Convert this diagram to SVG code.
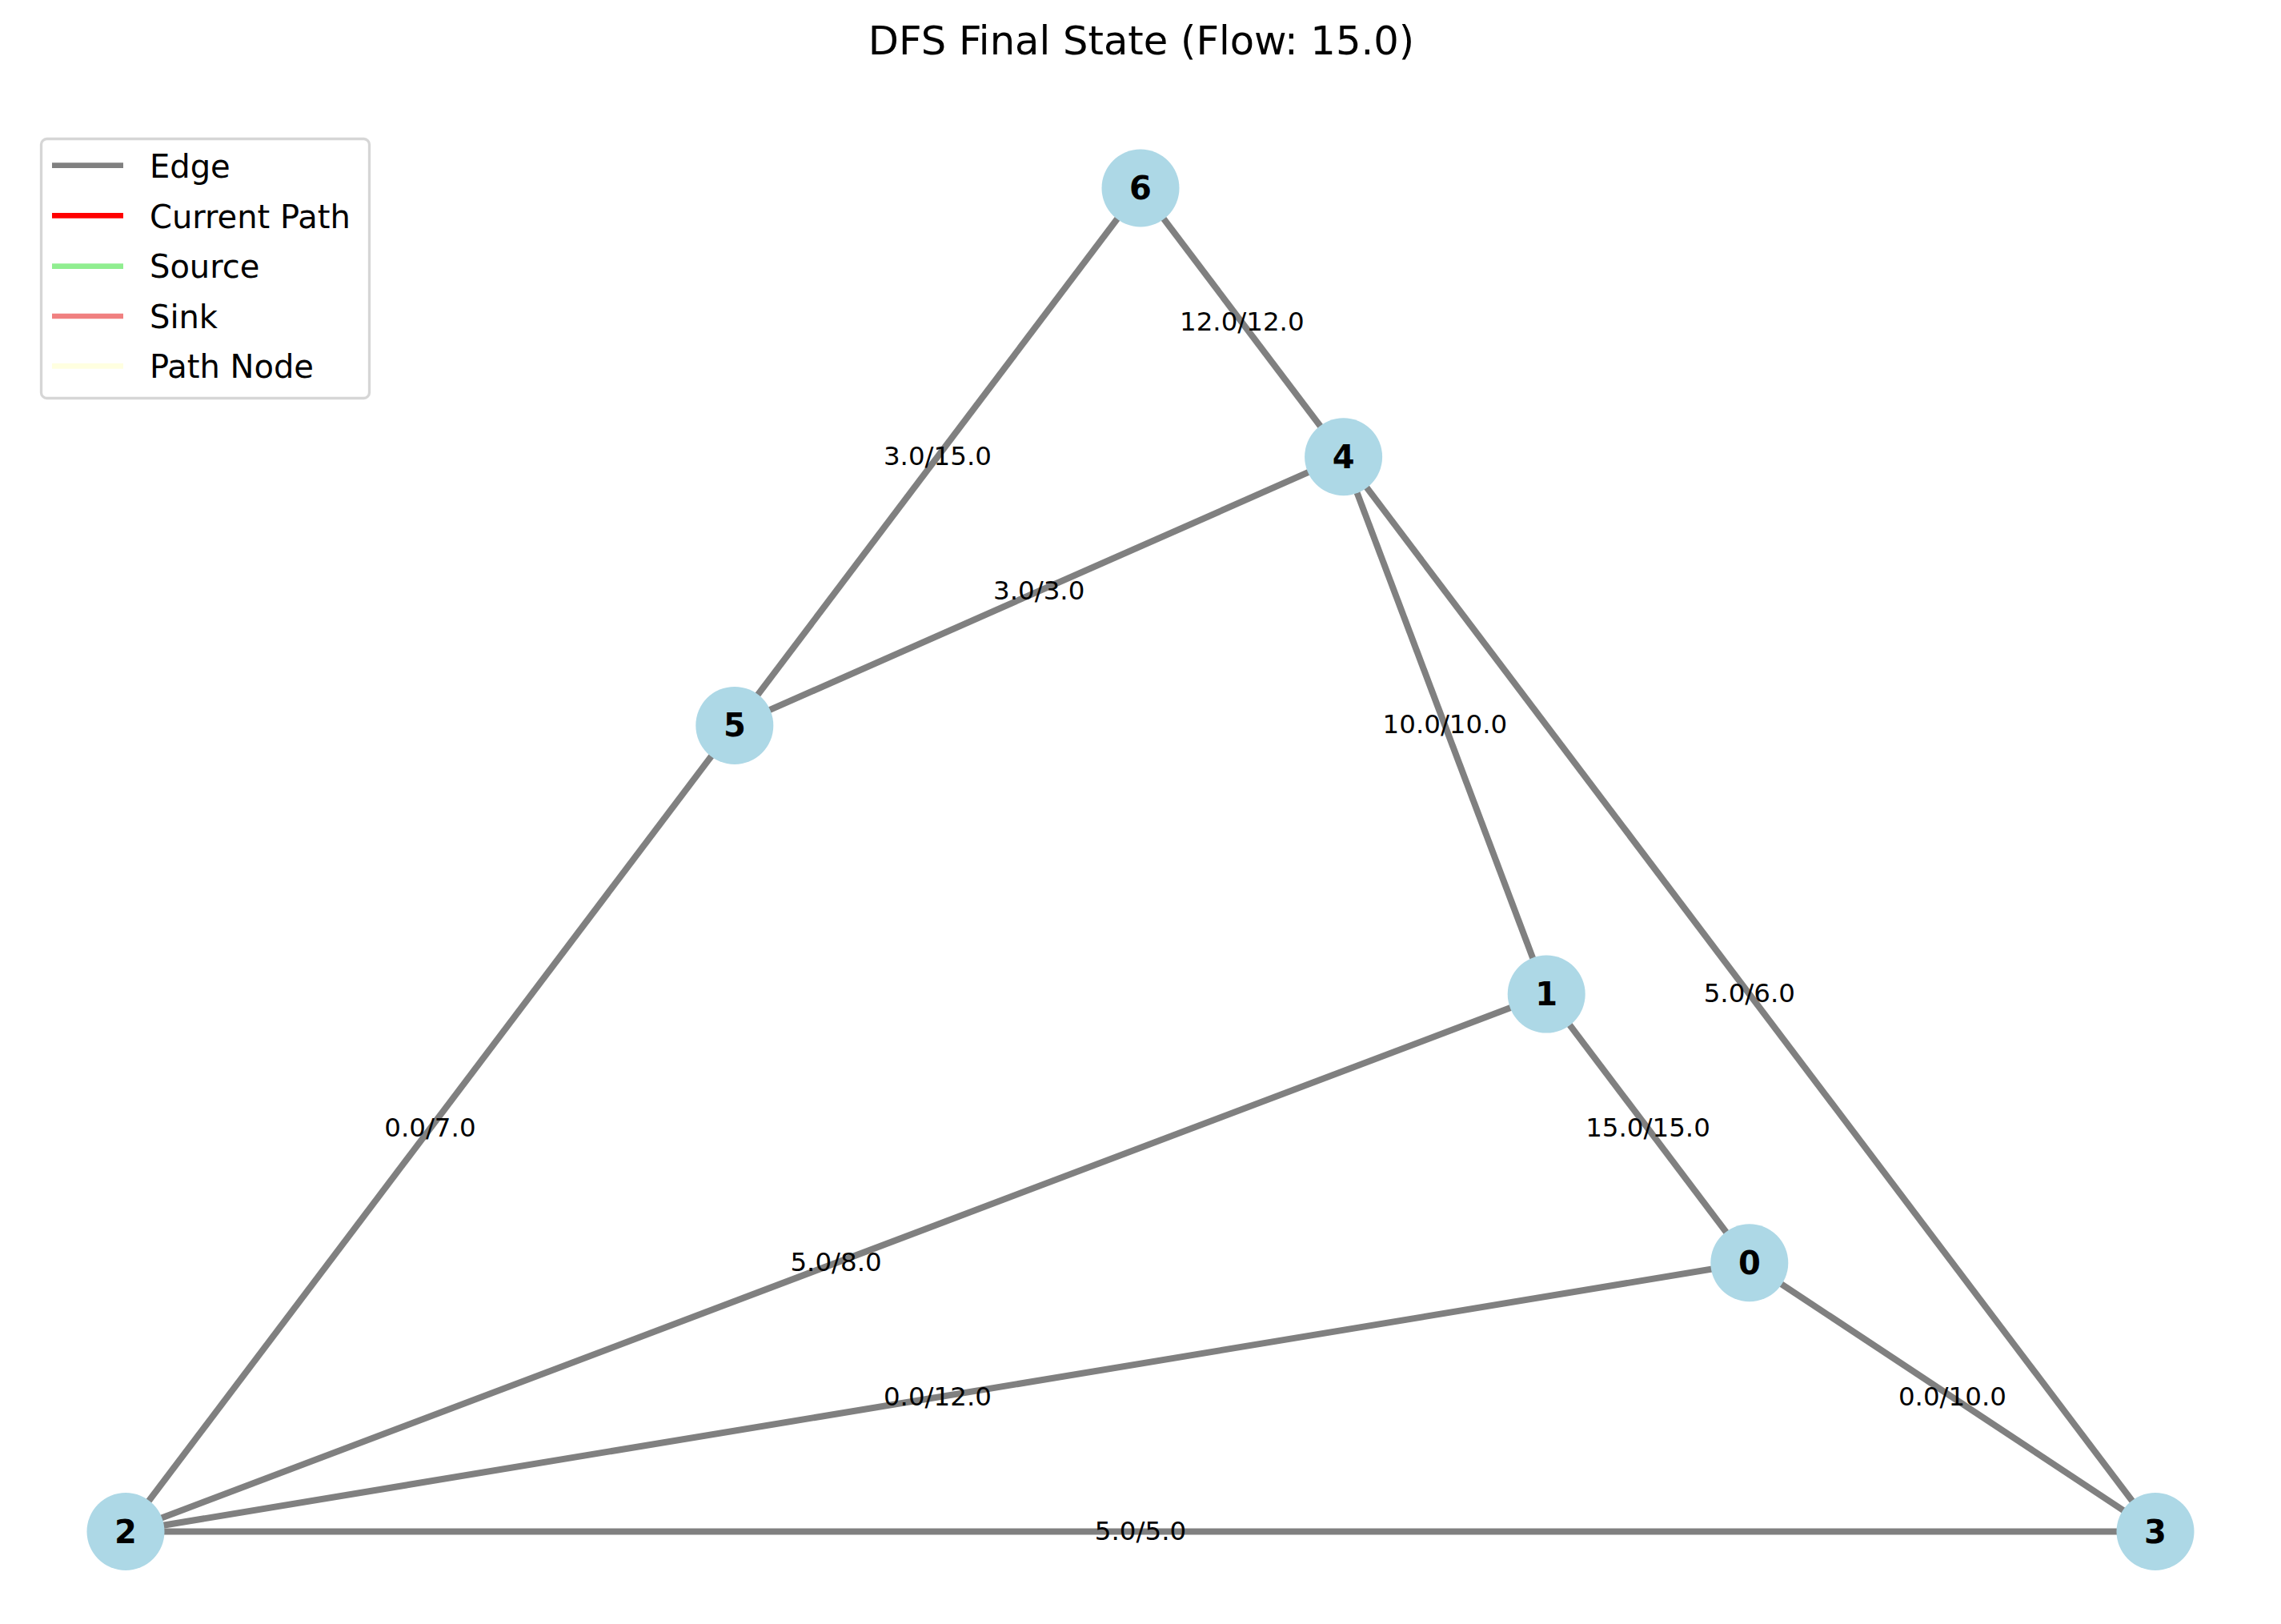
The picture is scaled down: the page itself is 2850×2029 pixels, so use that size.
<svg xmlns="http://www.w3.org/2000/svg" width="2850" height="2029" viewBox="0 0 2850 2029">
<style>
text{font-family:"DejaVu Sans","Liberation Sans",sans-serif;fill:#000}
.e{stroke:#808080;stroke-width:8;fill:none}
.n{fill:#add8e6}
.nl{font-size:40px;font-weight:bold;text-anchor:middle}
.el{font-size:32.5px;text-anchor:middle}
.lg{font-size:40px}
.ll{stroke-width:6.7;fill:none}
</style>
<rect width="2850" height="2029" fill="#fff"/>
<text x="1426" y="68" style="font-size:49.6px;text-anchor:middle">DFS Final State (Flow: 15.0)</text>
<g id="connectors">
<line class="e" x1="1425" y1="235" x2="1678.6" y2="570.7"/>
<line class="e" x1="1425" y1="235" x2="917.8" y2="906.4"/>
<line class="e" x1="917.8" y1="906.4" x2="1678.6" y2="570.7"/>
<line class="e" x1="1678.6" y1="570.7" x2="1932.2" y2="1242.1"/>
<line class="e" x1="1678.6" y1="570.7" x2="2693" y2="1913.5"/>
<line class="e" x1="1932.2" y1="1242.1" x2="2185.8" y2="1577.8"/>
<line class="e" x1="917.8" y1="906.4" x2="157" y2="1913.5"/>
<line class="e" x1="1932.2" y1="1242.1" x2="157" y2="1913.5"/>
<line class="e" x1="2185.8" y1="1577.8" x2="157" y2="1913.5"/>
<line class="e" x1="2185.8" y1="1577.8" x2="2693" y2="1913.5"/>
<line class="e" x1="157" y1="1913.5" x2="2693" y2="1913.5"/>
</g>
<g id="node-6"><circle class="n" cx="1425" cy="235" r="48.5"/><text class="nl" x="1425" y="249">6</text></g>
<g id="node-4"><circle class="n" cx="1678.6" cy="570.7" r="48.5"/><text class="nl" x="1678.6" y="584.7">4</text></g>
<g id="node-5"><circle class="n" cx="917.8" cy="906.4" r="48.5"/><text class="nl" x="917.8" y="920.4">5</text></g>
<g id="node-1"><circle class="n" cx="1932.2" cy="1242.1" r="48.5"/><text class="nl" x="1932.2" y="1256.1">1</text></g>
<g id="node-0"><circle class="n" cx="2185.8" cy="1577.8" r="48.5"/><text class="nl" x="2185.8" y="1591.8">0</text></g>
<g id="node-2"><circle class="n" cx="157" cy="1913.5" r="48.5"/><text class="nl" x="157" y="1927.5">2</text></g>
<g id="node-3"><circle class="n" cx="2693" cy="1913.5" r="48.5"/><text class="nl" x="2693" y="1927.5">3</text></g>
<g id="edge-labels">
<text class="el" x="1551.8" y="412.9">12.0/12.0</text>
<text class="el" x="1171.4" y="580.7">3.0/15.0</text>
<text class="el" x="1298.2" y="748.6">3.0/3.0</text>
<text class="el" x="1805.4" y="916.4">10.0/10.0</text>
<text class="el" x="2185.8" y="1252.1">5.0/6.0</text>
<text class="el" x="2059" y="1420">15.0/15.0</text>
<text class="el" x="537.4" y="1420">0.0/7.0</text>
<text class="el" x="1044.6" y="1587.8">5.0/8.0</text>
<text class="el" x="1171.4" y="1755.7">0.0/12.0</text>
<text class="el" x="2439.4" y="1755.7">0.0/10.0</text>
<text class="el" x="1425" y="1923.5">5.0/5.0</text>
</g>
<g id="legend">
<rect x="51.5" y="173.5" width="410" height="324" rx="7" fill="#fff" fill-opacity="0.8" stroke="#d6d6d6" stroke-width="3.3"/>
<line class="ll" x1="65" y1="206.7" x2="154" y2="206.7" stroke="#808080"/>
<text class="lg" x="187" y="222">Edge</text>
<line class="ll" x1="65" y1="269.3" x2="154" y2="269.3" stroke="#ff0000"/>
<text class="lg" x="187" y="285">Current Path</text>
<line class="ll" x1="65" y1="332.7" x2="154" y2="332.7" stroke="#90ee90"/>
<text class="lg" x="187" y="347">Source</text>
<line class="ll" x1="65" y1="395" x2="154" y2="395" stroke="#f08080"/>
<text class="lg" x="187" y="410">Sink</text>
<line class="ll" x1="65" y1="457.3" x2="154" y2="457.3" stroke="#ffffe0"/>
<text class="lg" x="187" y="472">Path Node</text>
</g>
</svg>
